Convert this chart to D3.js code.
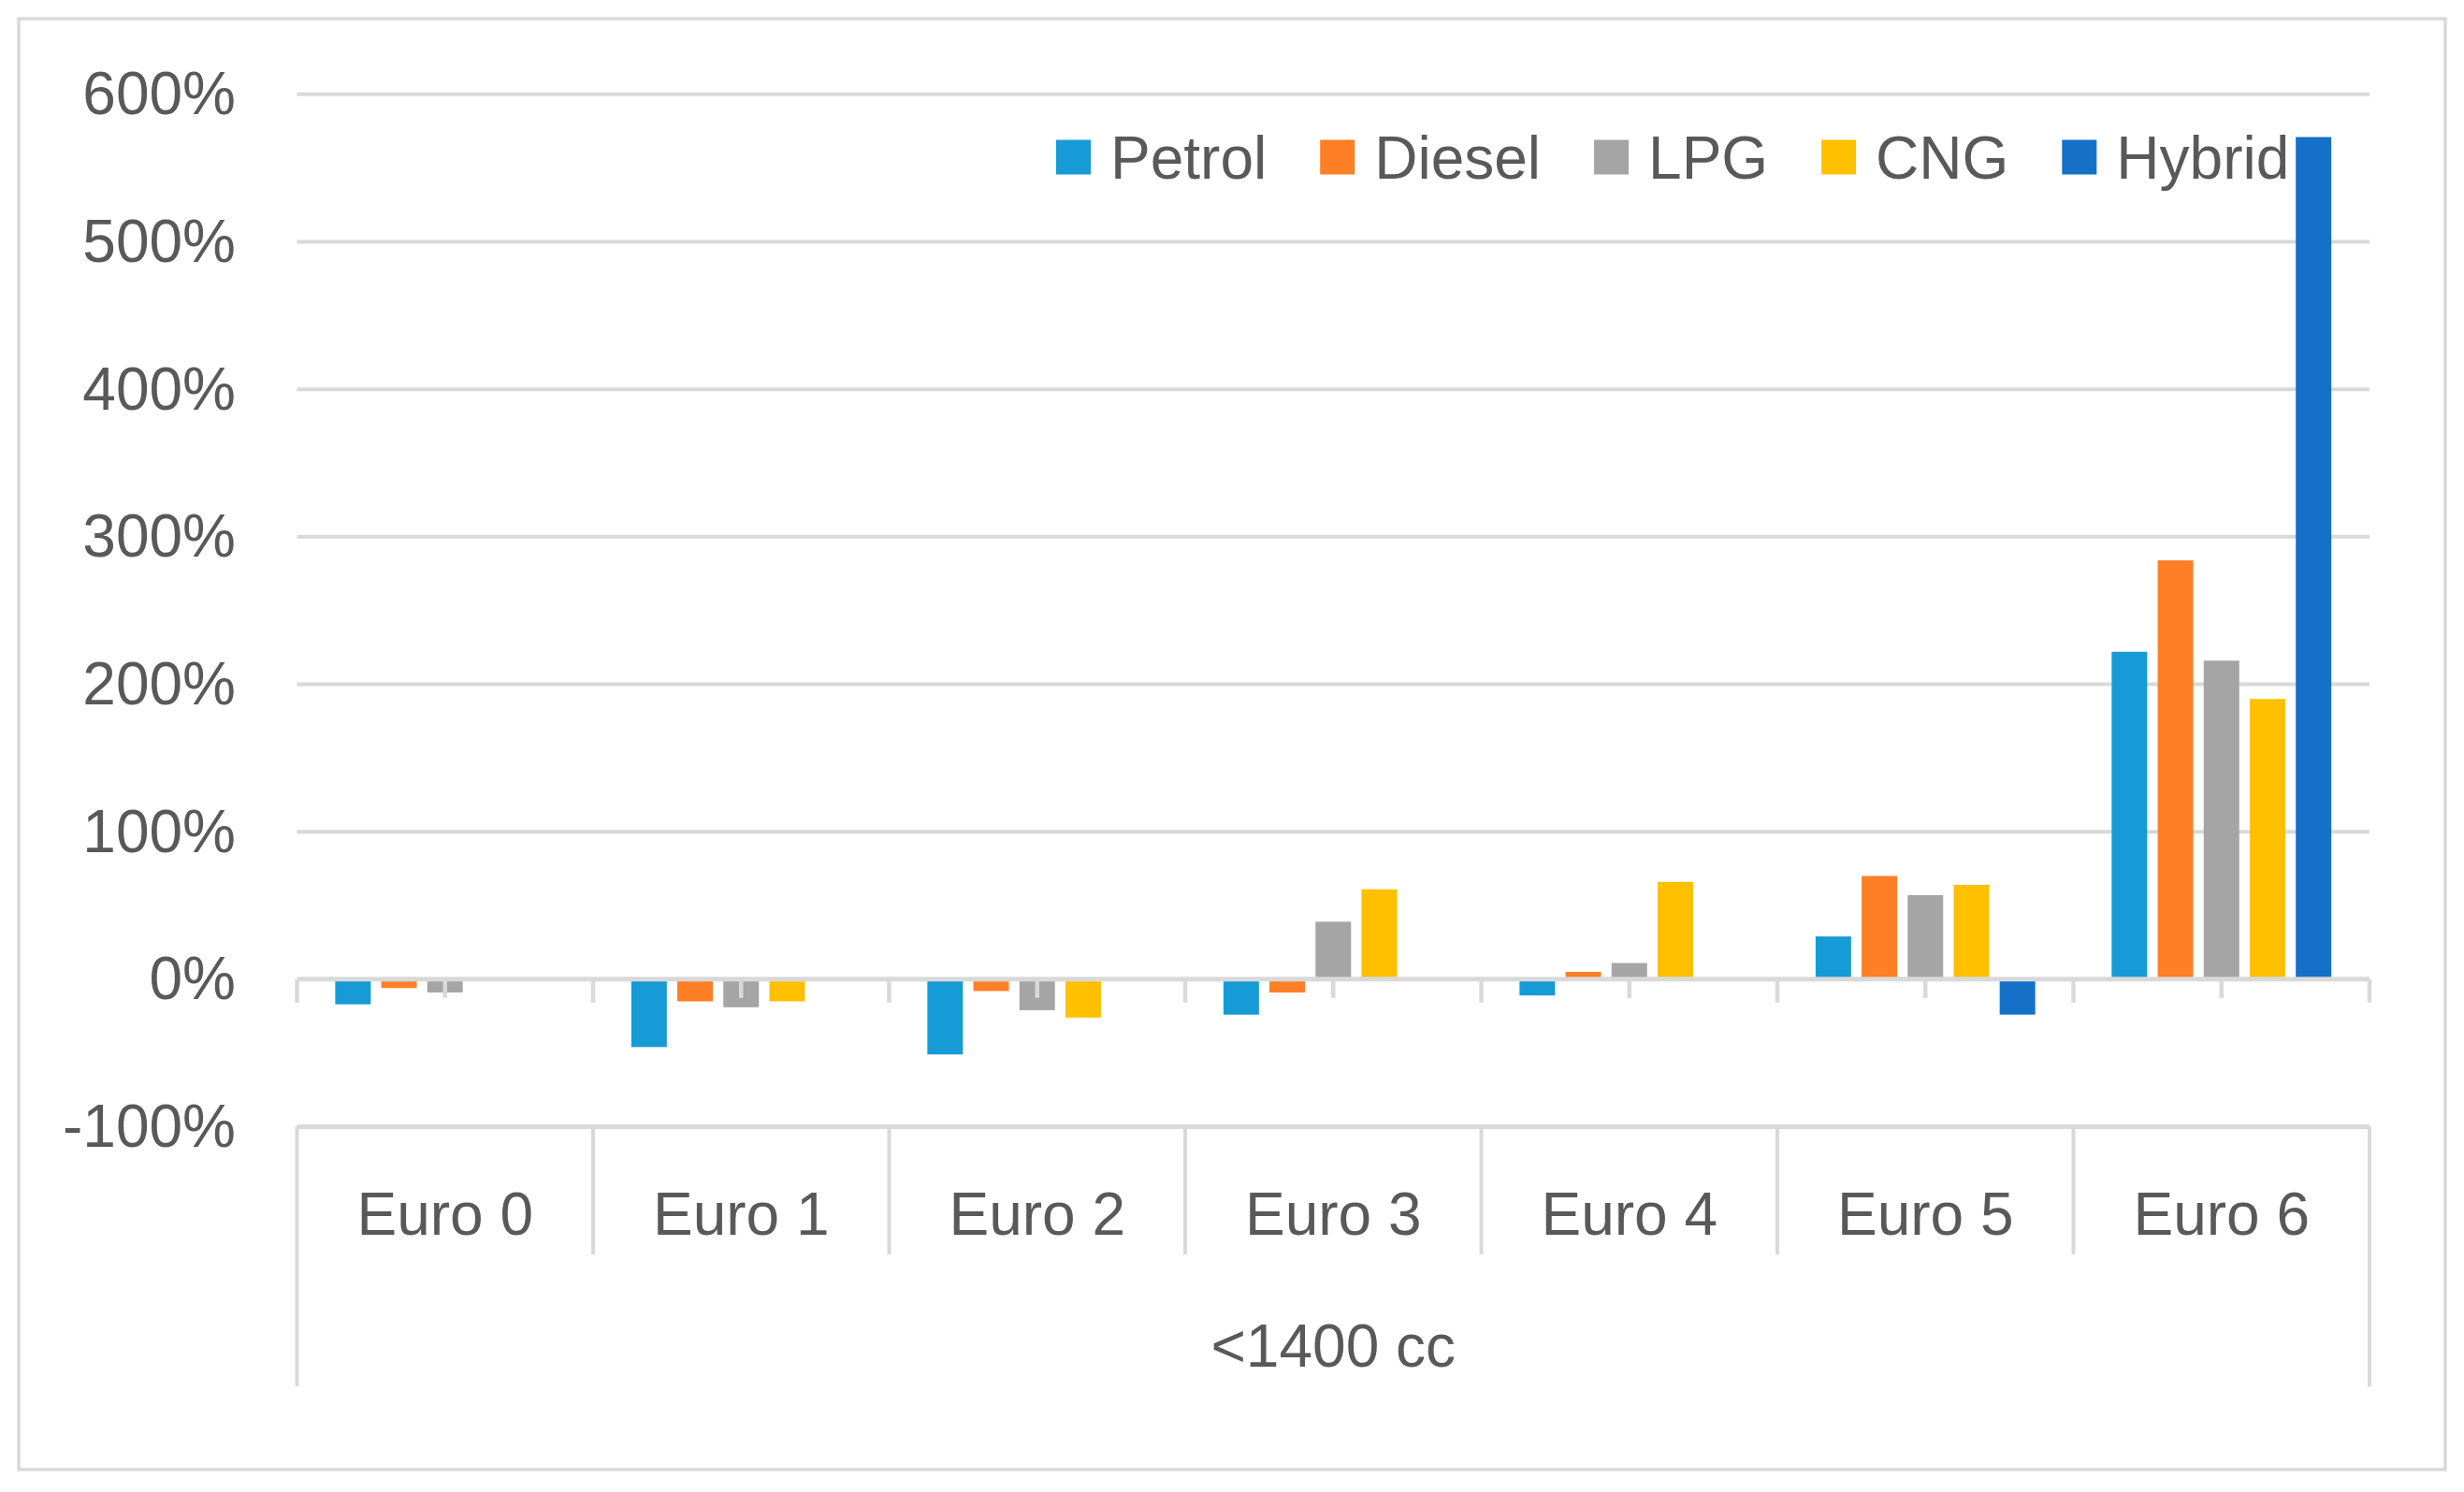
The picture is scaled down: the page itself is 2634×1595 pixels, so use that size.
<!DOCTYPE html>
<html>
<head>
<meta charset="utf-8">
<script src="https://cdn.jsdelivr.net/npm/d3@7"></script>
<style>
  html, body { margin: 0; padding: 0; background: #ffffff; }
  svg { display: block; }
  text { font-family: "Liberation Sans", Arial, sans-serif; fill: #595959; }
</style>
</head>
<body>
<svg id="chart" width="2634" height="1595"></svg>
<script>
// ---- Data ----
const categories = ["Euro 0", "Euro 1", "Euro 2", "Euro 3", "Euro 4", "Euro 5", "Euro 6"];
const groupLabel = "<1400 cc";
const series = ["Petrol", "Diesel", "LPG", "CNG", "Hybrid"];
const colors = ["#179bd7", "#ff7f27", "#a5a5a5", "#ffc000", "#1570c8"];
// values in percent (null = no bar)
const petrol = [-17, -46, -51, -24, -11, 29, 222];
const diesel = [-6, -15, -8, -9, 5, 70, 284];
const lpg    = [-9, -19, -21, 39, 11, 57, 216];
const cng    = [null, -15, -26, 61, 66, 64, 190];
const hybrid = [null, null, null, null, null, -24, 571];
const yTicks = [-100, 0, 100, 200, 300, 400, 500, 600];

const seriesValues = [petrol, diesel, lpg, cng, hybrid];

// ---- Layout ----
const svg = d3.select("#chart");
const plot = { left: 317.5, right: 2533, top: 100.8, bottom: 1204.5 };
const gridColor = "#d9d9d9";

// outer border
svg.append("rect")
  .attr("x", 20).attr("y", 20)
  .attr("width", 2594).attr("height", 1551)
  .attr("fill", "#ffffff")
  .attr("stroke", gridColor).attr("stroke-width", 3.5);

const y = d3.scaleLinear().domain([-100, 600]).range([plot.bottom, plot.top]);
const x0 = d3.scaleBand().domain(categories).range([plot.left, plot.right]).paddingInner(0).paddingOuter(0);
const x1 = d3.scaleBand().domain(series).range([0, x0.bandwidth()]).paddingInner(0.228).paddingOuter(0.83);

// gridlines
svg.append("g").selectAll("line").data(yTicks.filter(d => d !== 0 && d !== -100)).join("line")
  .attr("x1", plot.left).attr("x2", plot.right)
  .attr("y1", d => y(d)).attr("y2", d => y(d))
  .attr("stroke", gridColor).attr("stroke-width", 4);

// y tick labels
const yAxis = d3.axisLeft(y).tickValues(yTicks).tickSize(0).tickPadding(0).tickFormat(d => d + "%");
const gy = svg.append("g").attr("transform", `translate(${252},0)`).call(yAxis);
gy.select(".domain").remove();
gy.selectAll("text")
  .attr("font-size", 64)
  .attr("font-family", '"Liberation Sans", Arial, sans-serif')
  .attr("fill", "#595959")
  .attr("dy", "0.33em");

// bars
const rows = [];
categories.forEach((c, i) => {
  series.forEach((s, j) => {
    const v = seriesValues[j][i];
    if (v !== null && v !== undefined) rows.push({ cat: c, s, v, color: colors[j] });
  });
});
svg.append("g").selectAll("rect").data(rows).join("rect")
  .attr("x", d => x0(d.cat) + x1(d.s))
  .attr("width", x1.bandwidth())
  .attr("y", d => Math.min(y(d.v), y(0)))
  .attr("height", d => Math.abs(y(d.v) - y(0)))
  .attr("fill", d => d.color);

// zero axis line and ticks
const axisG = svg.append("g");
axisG.append("line")
  .attr("x1", plot.left).attr("x2", plot.right)
  .attr("y1", y(0)).attr("y2", y(0))
  .attr("stroke", gridColor).attr("stroke-width", 5);
const boundaries = categories.map(c => x0(c)).concat([plot.right]);
axisG.selectAll("line.bt").data(boundaries).join("line").attr("class", "bt")
  .attr("x1", d => d).attr("x2", d => d)
  .attr("y1", y(0)).attr("y2", y(0) + 25)
  .attr("stroke", gridColor).attr("stroke-width", 4.5);
axisG.selectAll("line.ct").data(categories).join("line").attr("class", "ct")
  .attr("x1", d => x0(d) + x0.bandwidth() / 2).attr("x2", d => x0(d) + x0.bandwidth() / 2)
  .attr("y1", y(0)).attr("y2", y(0) + 20)
  .attr("stroke", gridColor).attr("stroke-width", 4.5);

// category table
const tableG = svg.append("g");
tableG.append("line")
  .attr("x1", plot.left).attr("x2", plot.right)
  .attr("y1", y(-100)).attr("y2", y(-100))
  .attr("stroke", gridColor).attr("stroke-width", 5);
const innerB = boundaries.slice(1, -1);
tableG.selectAll("line.ib").data(innerB).join("line").attr("class", "ib")
  .attr("x1", d => d).attr("x2", d => d)
  .attr("y1", y(-100)).attr("y2", 1341)
  .attr("stroke", gridColor).attr("stroke-width", 4);
tableG.selectAll("line.ob").data([plot.left, plot.right]).join("line").attr("class", "ob")
  .attr("x1", d => d).attr("x2", d => d)
  .attr("y1", y(-100)).attr("y2", 1482)
  .attr("stroke", gridColor).attr("stroke-width", 4);
tableG.selectAll("text.cat").data(categories).join("text").attr("class", "cat")
  .attr("x", d => x0(d) + x0.bandwidth() / 2)
  .attr("y", 1297)
  .attr("dy", "0.36em")
  .attr("text-anchor", "middle")
  .attr("font-size", 64)
  .text(d => d);
tableG.append("text")
  .attr("x", (plot.left + plot.right) / 2)
  .attr("y", 1438)
  .attr("dy", "0.36em")
  .attr("text-anchor", "middle")
  .attr("font-size", 64)
  .text(groupLabel);

// legend
const legend = svg.append("g");
let lx = 1129;
const ly = 168, sw = 37;
series.forEach((s, j) => {
  legend.append("rect")
    .attr("x", lx).attr("y", ly - sw / 2)
    .attr("width", sw).attr("height", sw)
    .attr("fill", colors[j]);
  const t = legend.append("text")
    .attr("x", lx + sw + 21).attr("y", ly)
    .attr("dy", "0.36em")
    .attr("font-size", 64)
    .text(s);
  const w = t.node().getComputedTextLength();
  lx = lx + sw + 21 + w + 57;
});
</script>
</body>
</html>
